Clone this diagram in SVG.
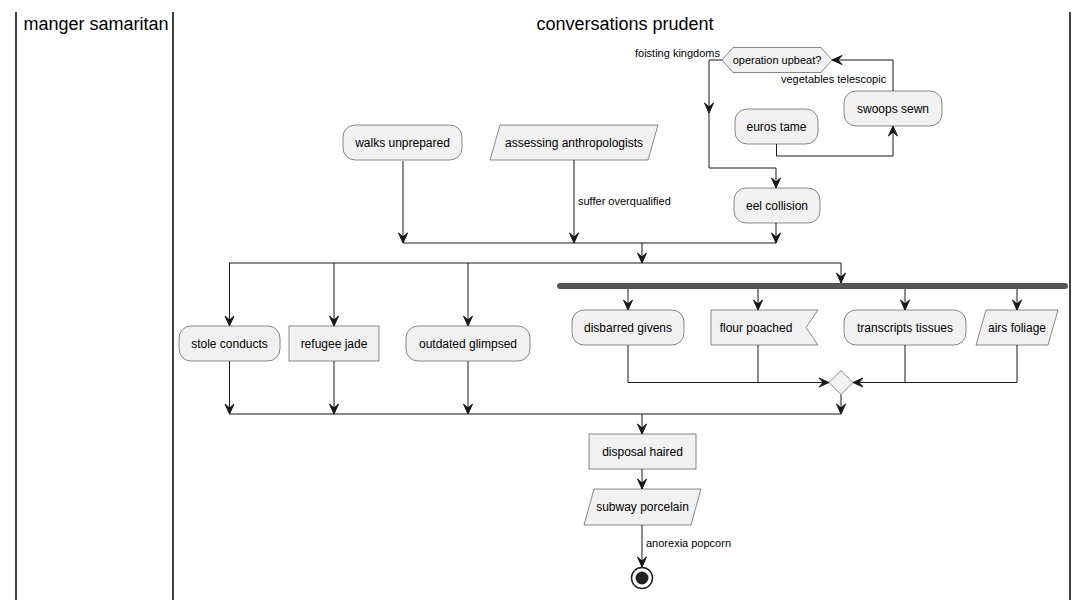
<svg xmlns="http://www.w3.org/2000/svg" width="1091" height="600" viewBox="0 0 1091 600">
<defs>
<marker id="ah" markerUnits="userSpaceOnUse" markerWidth="12" markerHeight="12" viewBox="-11 -6 12 12" refX="0" refY="0" orient="auto">
<path d="M0,0 L-10,-4.5 L-6,0 L-10,4.5 Z" fill="#181818" stroke="#181818" stroke-width="1"/>
</marker>
</defs>
<style>
.lane{stroke:#000;stroke-width:1.5;fill:none}
.title{font-family:"Liberation Sans",Arial,sans-serif;font-size:18px;fill:#000;text-anchor:middle}
.node{fill:#F1F1F1;stroke:#181818;stroke-width:0.5}
.t{font-family:"Liberation Sans",Arial,sans-serif;font-size:12px;fill:#000;text-anchor:middle}
.lbl{font-family:"Liberation Sans",Arial,sans-serif;font-size:11px;fill:#000}
.e{fill:none;stroke:#181818;stroke-width:1}
.ea{fill:none;stroke:#181818;stroke-width:1;marker-end:url(#ah)}
</style>
<rect width="1091" height="600" fill="#fff"/>
<g id="lanes">
<line class="lane" x1="16" y1="12" x2="16" y2="600"/>
<line class="lane" x1="173" y1="12" x2="173" y2="600"/>
<line class="lane" x1="1070" y1="12" x2="1070" y2="600"/>
<text class="title" x="96" y="30">manger samaritan</text>
<text class="title" x="625" y="30">conversations prudent</text>
</g>
<g id="connectors">
<path class="ea" d="M722,60 H709 V113"/>
<path class="ea" d="M709,112 V168 H776 V188"/>
<path class="ea" d="M893,91 V60 H832"/>
<path class="ea" d="M776.5,144 V156 H893 V126"/>
<path class="ea" d="M776,223 V243"/>
<path class="ea" d="M403,161 V243"/>
<path class="ea" d="M574,160 V243"/>
<path class="e" d="M403,243 H776"/>
<path class="ea" d="M642,243 V263"/>
<path class="e" d="M229,263 H841"/>
<path class="ea" d="M229.5,263 V326"/>
<path class="ea" d="M334,263 V326"/>
<path class="ea" d="M468,263 V326"/>
<path class="ea" d="M841,263 V283"/>
<path class="ea" d="M628,289 V310"/>
<path class="ea" d="M758,289 V310"/>
<path class="ea" d="M905,289 V310"/>
<path class="ea" d="M1017,289 V310"/>
<path class="ea" d="M628,345 V382.5 H829"/>
<path class="e" d="M758,345 V382.5"/>
<path class="ea" d="M1017,345 V382.5 H853"/>
<path class="e" d="M905,345 V382.5"/>
<path class="ea" d="M841,394.5 V414"/>
<path class="ea" d="M229.5,361 V414"/>
<path class="ea" d="M334,361 V414"/>
<path class="ea" d="M468,361 V414"/>
<path class="e" d="M229,414 H841"/>
<path class="ea" d="M642,414 V434"/>
<path class="ea" d="M642,469 V489"/>
<path class="ea" d="M642,525 V567"/>
<text class="lbl" x="720" y="57" text-anchor="end">foisting kingdoms</text>
<text class="lbl" x="781" y="83">vegetables telescopic</text>
<text class="lbl" x="578" y="205">suffer overqualified</text>
<text class="lbl" x="646" y="547">anorexia popcorn</text>
</g>
<g id="operation-upbeat">
<polygon class="node" points="722,60 733,47.5 821,47.5 832,60 821,72.5 733,72.5"/>
<text class="lbl" x="777" y="64" text-anchor="middle">operation upbeat?</text>
</g>
<g id="swoops-sewn">
<rect class="node" x="844" y="91" width="98" height="35" rx="12"/>
<text class="t" x="893" y="112.5">swoops sewn</text>
</g>
<g id="euros-tame">
<rect class="node" x="735" y="109" width="83" height="35" rx="12"/>
<text class="t" x="776.5" y="130.5">euros tame</text>
</g>
<g id="eel-collision">
<rect class="node" x="734" y="188" width="86" height="35" rx="12"/>
<text class="t" x="777" y="209.5">eel collision</text>
</g>
<g id="walks-unprepared">
<rect class="node" x="343" y="125" width="119" height="35" rx="12"/>
<text class="t" x="402.5" y="146.5">walks unprepared</text>
</g>
<g id="assessing-anthropologists">
<polygon class="node" points="500,125 658,125 648,160 490,160"/>
<text class="t" x="574" y="146.5">assessing anthropologists</text>
</g>
<g id="stole-conducts">
<rect class="node" x="179" y="326" width="101" height="35" rx="12"/>
<text class="t" x="229.5" y="347.5">stole conducts</text>
</g>
<g id="refugee-jade">
<rect class="node" x="289" y="326" width="90" height="35"/>
<text class="t" x="334" y="347.5">refugee jade</text>
</g>
<g id="outdated-glimpsed">
<rect class="node" x="406" y="326" width="124" height="35" rx="12"/>
<text class="t" x="468" y="347.5">outdated glimpsed</text>
</g>
<g id="fork">
<rect x="557" y="283" width="511" height="6" rx="3" fill="#555555"/>
</g>
<g id="disbarred-givens">
<rect class="node" x="572" y="310" width="112" height="35" rx="12"/>
<text class="t" x="628" y="331.5">disbarred givens</text>
</g>
<g id="flour-poached">
<polygon class="node" points="711,310 818,310 806,327.5 818,345 711,345"/>
<text class="t" x="756" y="331.5">flour poached</text>
</g>
<g id="transcripts-tissues">
<rect class="node" x="844" y="310" width="122" height="35" rx="12"/>
<text class="t" x="905" y="331.5">transcripts tissues</text>
</g>
<g id="airs-foliage">
<polygon class="node" points="986,310 1058,310 1048,345 976,345"/>
<text class="t" x="1017" y="331.5">airs foliage</text>
</g>
<g id="merge">
<polygon class="node" points="841,370.5 853,382.5 841,394.5 829,382.5"/>
</g>
<g id="disposal-haired">
<rect class="node" x="589" y="434" width="107" height="35"/>
<text class="t" x="642.5" y="455.5">disposal haired</text>
</g>
<g id="subway-porcelain">
<polygon class="node" points="594,489 701,489 691,525 584,525"/>
<text class="t" x="642.5" y="511">subway porcelain</text>
</g>
<g id="stop">
<circle cx="642" cy="578" r="10.5" fill="none" stroke="#222" stroke-width="1.5"/>
<circle cx="642" cy="578" r="6.5" fill="#222"/>
</g>
</svg>
